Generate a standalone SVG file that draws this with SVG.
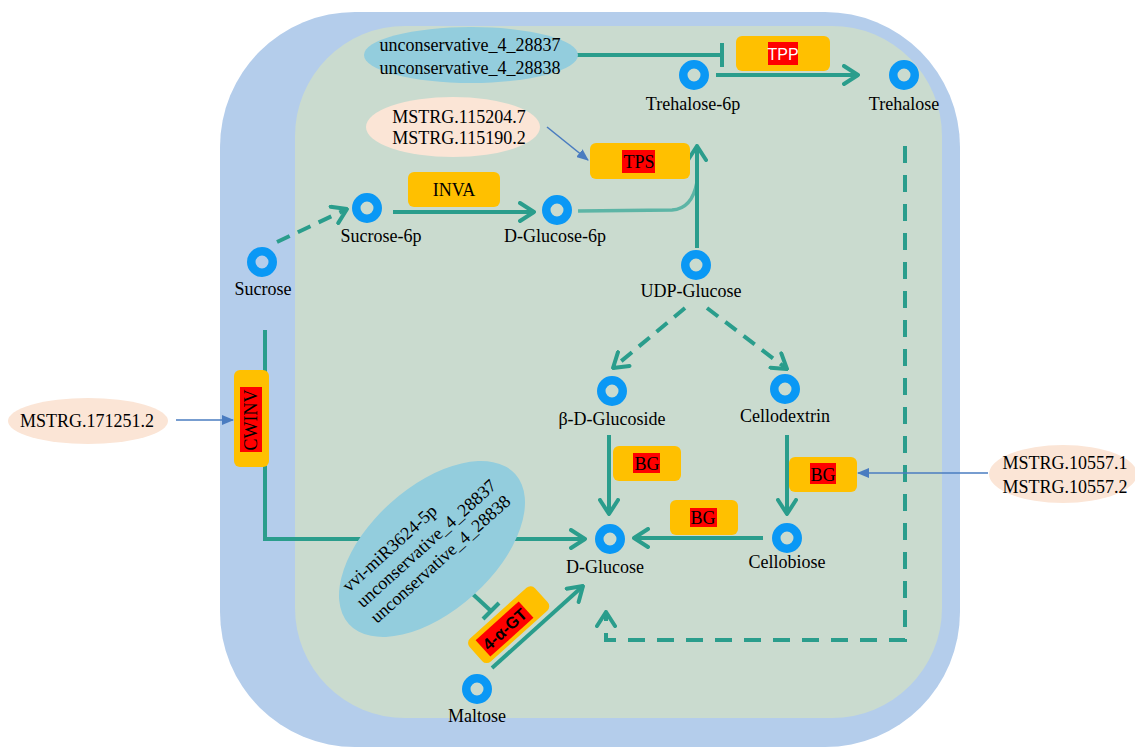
<svg xmlns="http://www.w3.org/2000/svg" width="1135" height="747" viewBox="0 0 1135 747">
<style>
.lbl{font-family:"Liberation Serif",serif;font-size:18px;fill:#000;text-anchor:middle}
.ring{fill:none;stroke:#0A98F5;stroke-width:8.5}
.enz{fill:#FFC000}
.red{fill:#FF0000}
.flow{fill:none;stroke:#2A9D8C;stroke-width:4}
.dash{stroke-dasharray:14 9}
.dash2{stroke-dasharray:17 12}
.reg{fill:none;stroke:#4A7CC0;stroke-width:1.6}
</style>
<defs>
<marker id="chev" viewBox="0 0 18 22" refX="16" refY="11" markerWidth="18" markerHeight="22" markerUnits="userSpaceOnUse" orient="auto">
<path d="M2,2 L16,11 L2,20" fill="none" stroke="#2A9D8C" stroke-width="4" stroke-linecap="round" stroke-linejoin="round"/>
</marker>
<marker id="tri" viewBox="0 0 12 10" refX="11" refY="5" markerWidth="12" markerHeight="10" markerUnits="userSpaceOnUse" orient="auto">
<path d="M0,0 L12,5 L0,10 Z" fill="#4A7CC0"/>
</marker>
</defs>
<rect x="220" y="12" width="740" height="735" rx="135" fill="#B4CDEB"/>
<rect x="295" y="26" width="647" height="692" rx="110" fill="#CADBCF"/>
<g id="connectors">
<path class="flow" d="M575,55 H722"/>
<path class="flow" d="M722,43 V67"/>
<path class="flow" d="M716,75 H858" marker-end="url(#chev)"/>
<path class="flow dash2" d="M905,146 V640 H606 V612" marker-end="url(#chev)"/>
<path class="reg" d="M547,127 L588,160" marker-end="url(#tri)"/>
<path class="flow" d="M393,212 H534" marker-end="url(#chev)"/>
<path d="M578,211 L672,210 Q692,209 697,182" fill="none" stroke="#5DB5A6" stroke-width="3.5"/>
<path class="flow" d="M697,248 V146" marker-end="url(#chev)"/>
<path class="flow dash" d="M277,242 L347,209" marker-end="url(#chev)"/>
<path class="flow dash" d="M685,308 L613,368" marker-end="url(#chev)"/>
<path class="flow dash" d="M707,308 L787,369" marker-end="url(#chev)"/>
<path class="flow" d="M609,435 V514" marker-end="url(#chev)"/>
<path class="flow" d="M787,435 V514" marker-end="url(#chev)"/>
<path class="flow" d="M763,538 H634" marker-end="url(#chev)"/>
<path class="reg" d="M988,473 L858,473" marker-end="url(#tri)"/>
<path class="reg" d="M176,420 L233,420" marker-end="url(#tri)"/>
<path class="flow" d="M265,330 V539 H585" marker-end="url(#chev)"/>
<path class="flow" d="M463,585 L491,611"/>
<path class="flow" d="M483,619 L499,603"/>
<path class="flow" d="M492,668 L583,586" marker-end="url(#chev)"/>
</g>
<g id="reg-top">
<ellipse cx="471" cy="55" rx="107" ry="28" fill="#93CDDD"/>
<text class="lbl" x="470" y="51">unconservative_4_28837</text>
<text class="lbl" x="470" y="74">unconservative_4_28838</text>
</g>
<g id="tpp">
<rect class="enz" x="736" y="36" width="94" height="35" rx="6"/>
<rect class="red" x="768" y="42" width="30" height="23"/>
<text x="783" y="60" font-family="Liberation Sans,sans-serif" font-size="16" fill="#fff" text-anchor="middle">TPP</text>
</g>
<g id="trehalose6p"><circle class="ring" cx="694" cy="75" r="10.75"/><text class="lbl" x="693" y="110">Trehalose-6p</text></g>
<g id="trehalose"><circle class="ring" cx="904" cy="75" r="10.75"/><text class="lbl" x="904" y="110">Trehalose</text></g>
<g id="reg-tps">
<ellipse cx="453" cy="127" rx="87" ry="30" fill="#FBE5D6"/>
<text class="lbl" x="459" y="123">MSTRG.115204.7</text>
<text class="lbl" x="459" y="144">MSTRG.115190.2</text>
</g>
<g id="tps">
<rect class="enz" x="590" y="143" width="100" height="36" rx="6"/>
<rect class="red" x="622" y="150" width="33" height="23"/>
<text class="lbl" x="639" y="168">TPS</text>
</g>
<g id="inva">
<rect class="enz" x="408" y="172" width="92" height="35" rx="6"/>
<text class="lbl" x="454" y="196">INVA</text>
</g>
<g id="sucrose6p"><circle class="ring" cx="367" cy="208" r="10.75"/><text class="lbl" x="381" y="242">Sucrose-6p</text></g>
<g id="dglucose6p"><circle class="ring" cx="557" cy="210" r="10.75"/><text class="lbl" x="555" y="242">D-Glucose-6p</text></g>
<g id="sucrose"><circle class="ring" cx="262" cy="262" r="10.75"/><text class="lbl" x="263" y="295">Sucrose</text></g>
<g id="udpglucose"><circle class="ring" cx="696" cy="265" r="10.75"/><text class="lbl" x="691" y="297">UDP-Glucose</text></g>
<g id="bdglucoside"><circle class="ring" cx="612" cy="391" r="10.75"/><text class="lbl" x="612" y="425">β-D-Glucoside</text></g>
<g id="cellodextrin"><circle class="ring" cx="785" cy="389" r="10.75"/><text class="lbl" x="785" y="422">Cellodextrin</text></g>
<g id="bg1">
<rect class="enz" x="613" y="446" width="68" height="35" rx="6"/>
<rect class="red" x="633" y="453" width="27" height="20"/>
<text class="lbl" x="647" y="470">BG</text>
</g>
<g id="bg2">
<rect class="enz" x="789" y="457" width="68" height="35" rx="6"/>
<rect class="red" x="810" y="463" width="26" height="21"/>
<text class="lbl" x="823" y="481">BG</text>
</g>
<g id="bg3">
<rect class="enz" x="670" y="500" width="68" height="35" rx="6"/>
<rect class="red" x="690" y="508" width="27" height="19"/>
<text class="lbl" x="703" y="524">BG</text>
</g>
<g id="cellobiose"><circle class="ring" cx="787" cy="538" r="10.75"/><text class="lbl" x="787" y="568">Cellobiose</text></g>
<g id="dglucose"><circle class="ring" cx="610" cy="539" r="10.75"/><text class="lbl" x="605" y="573">D-Glucose</text></g>
<g id="reg-bg">
<ellipse cx="1063" cy="474" rx="74" ry="29" fill="#FBE5D6"/>
<text class="lbl" x="1065" y="469">MSTRG.10557.1</text>
<text class="lbl" x="1065" y="493">MSTRG.10557.2</text>
</g>
<g id="reg-cwinv">
<ellipse cx="88" cy="421" rx="80" ry="23" fill="#FBE5D6"/>
<text class="lbl" x="87" y="427">MSTRG.171251.2</text>
</g>
<g id="cwinv">
<rect class="enz" x="234" y="370" width="35" height="97" rx="6"/>
<rect class="red" x="240" y="387" width="22" height="65"/>
<text class="lbl" transform="translate(257,420) rotate(-90)" x="0" y="0">CWINV</text>
</g>
<g id="reg-mir" transform="translate(432,549) rotate(-42)">
<ellipse cx="0" cy="0" rx="112" ry="62" fill="#93CDDD"/>
<text class="lbl" style="text-anchor:start" x="-91" y="-23">vvi-miR3624-5p</text>
<text class="lbl" style="text-anchor:start" x="-91" y="-2">unconservative_4_28837</text>
<text class="lbl" style="text-anchor:start" x="-91" y="19">unconservative_4_28838</text>
</g>
<g id="gt4" transform="translate(509,625) rotate(-42)">
<rect class="enz" x="-44" y="-16" width="88" height="31" rx="6"/>
<rect class="red" x="-35" y="-11" width="58" height="22"/>
<text x="-6" y="6" font-family="Liberation Sans,sans-serif" font-size="16.5" font-weight="bold" fill="#000" text-anchor="middle">4-α-GT</text>
</g>
<g id="maltose"><circle class="ring" cx="477" cy="689" r="10.75"/><text class="lbl" x="477" y="722">Maltose</text></g>
</svg>
